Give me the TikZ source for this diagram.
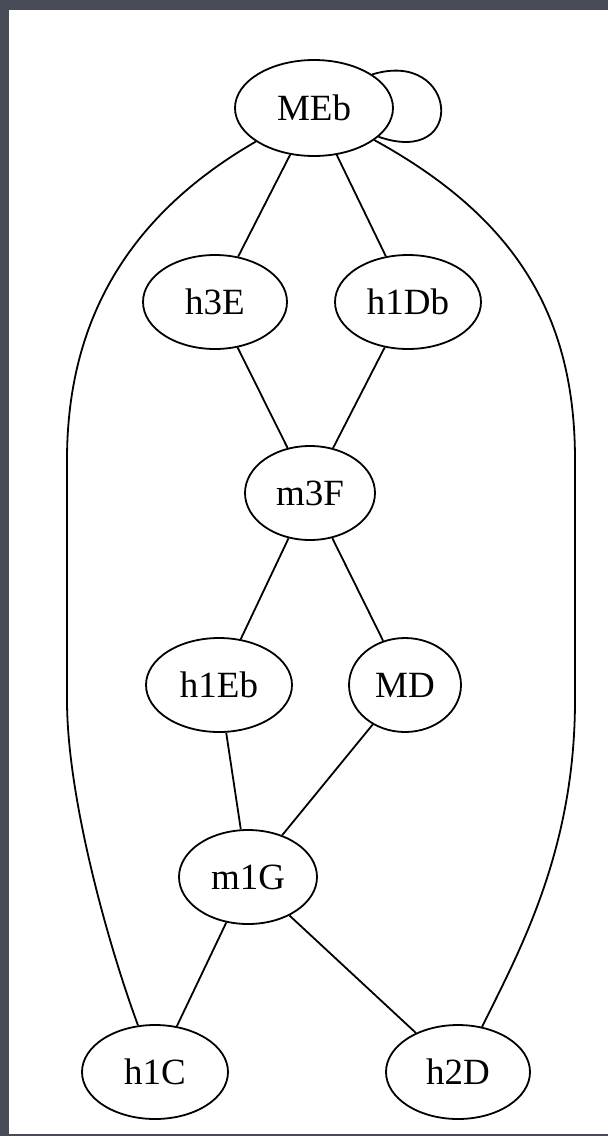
\documentclass[tikz,border=0pt]{standalone}
\usepackage{fontspec}
\setmainfont{Liberation Serif}
\usetikzlibrary{shapes.geometric}
\definecolor{frame}{RGB}{72,76,86}
\tikzset{
  gnode/.style={draw, ellipse, line width=1.8pt, inner sep=0pt, minimum height=94pt, font=\fontsize{37}{40}\selectfont},
  gedge/.style={draw, line width=1.8pt}
}
\begin{document}
\begin{tikzpicture}[x=1pt,y=-1pt]
\fill[frame] (0,0) rectangle (608,1136);
\fill[white] (9,10) rectangle (608,1134);
\useasboundingbox (0,0) rectangle (608,1136);
\node[gnode, minimum width=158pt, minimum height=96pt] (MEb) at (314,108) {MEb};
\node[gnode, minimum width=144pt] (h3E) at (215,302) {h3E};
\node[gnode, minimum width=146pt] (h1Db) at (408,302) {h1Db};
\node[gnode, minimum width=130pt] (m3F) at (310,493) {m3F};
\node[gnode, minimum width=146pt] (h1Eb) at (219,685) {h1Eb};
\node[gnode, minimum width=112pt] (MD) at (405,685) {MD};
\node[gnode, minimum width=138pt] (m1G) at (248,877) {m1G};
\node[gnode, minimum width=146pt] (h1C) at (155,1072) {h1C};
\node[gnode, minimum width=144pt] (h2D) at (458,1072) {h2D};
% self loop
\draw[gedge] (MEb.30) .. controls (458,48) and (468,168) .. (MEb.-24);
% straight edges
\draw[gedge] (MEb) -- (h3E);
\draw[gedge] (MEb) -- (h1Db);
\draw[gedge] (h3E) -- (m3F);
\draw[gedge] (h1Db) -- (m3F);
\draw[gedge] (m3F) -- (h1Eb);
\draw[gedge] (m3F) -- (MD);
\draw[gedge] (h1Eb) -- (m1G);
\draw[gedge] (MD) -- (m1G);
\draw[gedge] (m1G) -- (h1C);
\draw[gedge] (m1G) -- (h2D);
% long curved edges
\draw[gedge] (MEb.210) .. controls (120,220) and (67,330) .. (67,460) -- (67,700) .. controls (67,800) and (110,950) .. (h1C.110);
\draw[gedge] (MEb.-28) .. controls (520,220) and (575,320) .. (575,460) -- (575,700) .. controls (575,850) and (520,950) .. (h2D.62);
\end{tikzpicture}
\end{document}
